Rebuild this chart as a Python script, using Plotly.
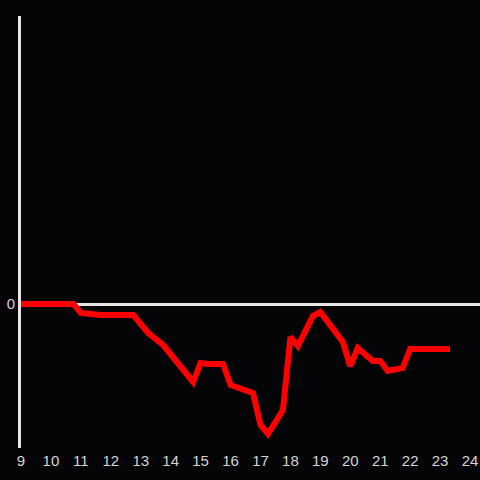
import plotly.graph_objects as go

hours = [9, 10.75, 11, 11.67, 12.75, 13.25, 13.75, 14.75, 15, 15.25, 15.75, 16, 16.75, 17,
         17.25, 17.75, 18, 18.25, 18.75, 19, 19.75, 20, 20.25, 20.75, 21, 21.25, 21.75, 22, 23.33]
values = [0, 0, -0.9, -1.1, -1.1, -2.9, -4.1, -7.8, -5.9, -6.0, -6.0, -8.1, -8.9, -12.1,
          -13.0, -10.6, -3.3, -4.2, -1.2, -0.8, -3.8, -6.2, -4.4, -5.7, -5.7, -6.7, -6.4, -4.5, -4.5]
x_ticks = list(range(9, 25))

fig = go.Figure()
fig.add_trace(go.Scatter(x=hours, y=values, mode="lines",
                         line=dict(color="#ff0000", width=6), hoverinfo="skip"))

fig.update_layout(width=480, height=480, showlegend=False,
                  margin=dict(l=21, r=0, t=16, b=32),
                  paper_bgcolor="#050407", plot_bgcolor="#050407",
                  font=dict(family="Liberation Sans, Arial, sans-serif", size=15, color="#d4d4d4"))
fig.update_xaxes(range=[9, 24.333], tickvals=x_ticks, showgrid=False, zeroline=False,
                 showline=False, ticks="", ticklabelstandoff=2)
fig.update_yaxes(range=[-14.4, 28.8], tickvals=[0], showgrid=False,
                 zeroline=True, zerolinecolor="#e6e6e6", zerolinewidth=3,
                 showline=True, linecolor="#e6e6e6", linewidth=3, ticks="")

fig.write_html("out.html", config={"displayModeBar": False},
               post_script="document.body.style.margin='0';document.body.style.background='#050407';")
